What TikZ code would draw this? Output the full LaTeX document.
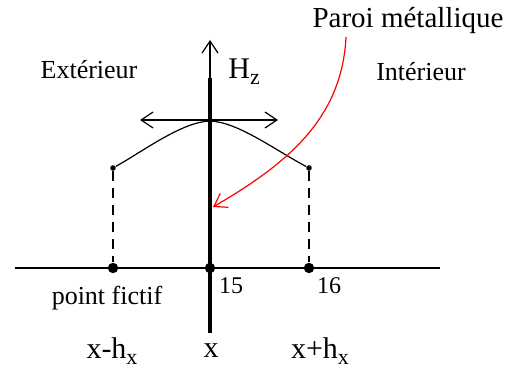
\documentclass[tikz,border=0pt]{standalone}
\usepackage{fontspec}
\setmainfont{Liberation Serif}
\usetikzlibrary{arrows.meta}
\newcommand{\sbx}[1]{\raisebox{-0.45ex}{\fontsize{11}{11}\selectfont #1}}

\begin{document}
\begin{tikzpicture}[x=0.5pt, y=-0.5pt, >={Straight Barb[length=6pt,width=8pt]},
  bigdot/.style={circle, fill, inner sep=0pt, minimum size=5.2pt},
  smalldot/.style={circle, fill, inner sep=0pt, minimum size=2.8pt},
  lbl/.style={font=\fontsize{13}{15}\selectfont, inner sep=0pt},
  biglbl/.style={font=\fontsize{15}{17}\selectfont, inner sep=0pt}]
  \useasboundingbox (0,0) rectangle (508,369);
  % x axis with the three grid points
  \coordinate (axL) at (15,268);
  \coordinate (axR) at (440,268);
  \draw[line width=0.6pt] (axL) -- (axR);
  \foreach \n/\xc in {m/113, 0/210, p/309}{
    \node[bigdot] (p\n) at (\xc,268) {};
  }
  % metal wall and H_z axis
  \coordinate (wallB) at (210,333);
  \coordinate (wallT) at (210,78);
  \coordinate (hzT) at (210,40);
  \coordinate (wallP) at (213,207);
  \draw[line width=1.6pt] (wallB) -- (wallT);
  \draw[->, line width=0.6pt] (wallT) -- (hzT);
  \node[biglbl, anchor=west] (hz) at (228,72) {H\sbx{z}};
  % field profile
  \node[smalldot] (cm) at (113,168) {};
  \node[smalldot] (cp) at (309,168) {};
  \coordinate (top) at (210,121);
  \draw[line width=0.6pt] (cm) .. controls (145,150) and (182,122) .. (top)
    .. controls (238,122) and (275,150) .. (cp);
  \coordinate (aL) at (140,120);
  \coordinate (aR) at (278,120);
  \draw[<->, line width=0.6pt] (aL) -- (aR);
  \foreach \n in {m,p}{
    \draw[line width=0.6pt, dash pattern=on 5pt off 3.5pt] (c\n) -- (p\n);
  }
  % labels
  \node[lbl] (ext) at (89,70) {Extérieur};
  \node[lbl] (int) at (421,72) {Intérieur};
  \node[font=\fontsize{14.5}{17}\selectfont, inner sep=0pt] (paroi) at (408,21) {Paroi métallique};
  \coordinate (redS) at (346,37);
  \draw[->, red, line width=0.6pt] (redS) .. controls (342,120) and (285,165) .. (wallP);
  \node[font=\fontsize{12}{14}\selectfont, inner sep=0pt] (n15) at (231,286) {15};
  \node[font=\fontsize{12}{14}\selectfont, inner sep=0pt] (n16) at (329,286) {16};
  \node[lbl] (fict) at (107,298) {point fictif};
  \node[biglbl] (xm) at (112,351) {x-h\sbx{x}};
  \node[biglbl] (x0) at (211,351) {x};
  \node[biglbl] (xp) at (320,351) {x+h\sbx{x}};
\end{tikzpicture}
\end{document}
